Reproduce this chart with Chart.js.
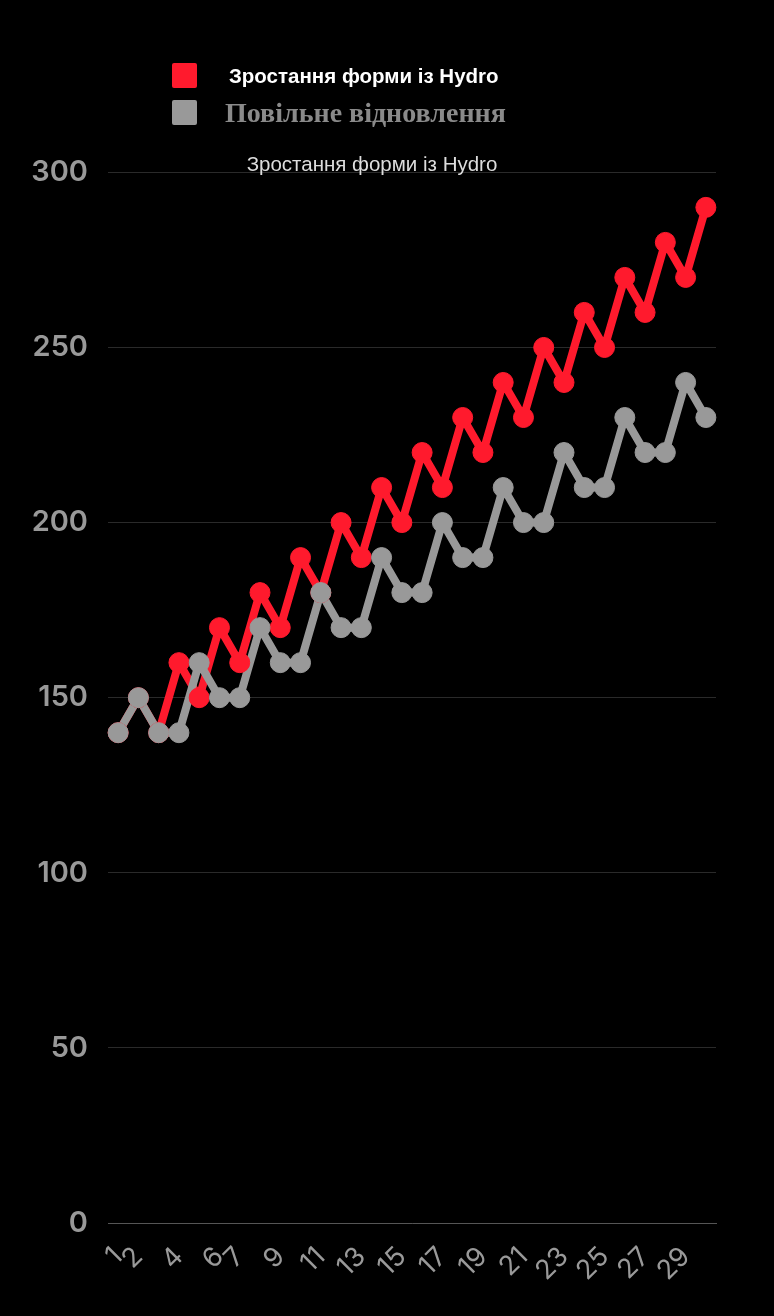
<!DOCTYPE html>
<html>
<head>
<meta charset="utf-8">
<script src="https://cdn.jsdelivr.net/npm/chart.js@4/dist/chart.umd.min.js"></script>
<style>
  html, body { margin: 0; padding: 0; background: #000; }
  #wrap { position: relative; width: 774px; height: 1316px; }
  #wrap canvas { position: absolute; left: 0; top: 0; }
  .legend { position: absolute; left: 172px; top: 63px; }
  .legend .item { display: flex; align-items: center; height: 25px; margin-bottom: 12px; }
  .legend .box { width: 25px; height: 25px; border-radius: 2px; }
  .legend .l1 { margin-left: 32px; color: #fff; font: bold 20.5px "Liberation Sans", Arial, sans-serif; }
  .legend .l2 { margin-left: 28px; color: #8a8a8a; font: bold 28px "Liberation Serif", "Times New Roman", serif; }
</style>
</head>
<body>
<div id="wrap">
  <canvas id="chart" width="774" height="1316"></canvas>
  <div class="legend" id="legend"></div>
</div>
<script>
const days = ['1','2','3','4','5','6','7','8','9','10','11','12','13','14','15',
  '16','17','18','19','20','21','22','23','24','25','26','27','28','29','30'];
const shownDays = ['1','2','4','6','7','9','11','13','15','17','19','21','23','25','27','29'];
const hydro = [140,150,140,160,150,170,160,180,170,190,180,200,190,210,200,
  220,210,230,220,240,230,250,240,260,250,270,260,280,270,290];
const slow = [140,150,140,140,160,150,150,170,160,160,180,170,170,190,180,
  180,200,190,190,210,200,200,220,210,210,230,220,220,240,230];
const seriesNames = ['Зростання форми із Hydro', 'Повільне відновлення'];
const titleText = 'Зростання форми із Hydro';
const yTicks = [0, 50, 100, 150, 200, 250, 300];

const RED = '#ff1a2d';
const GRAY = '#999999';

function buildLegend() {
  const el = document.getElementById('legend');
  const cols = [RED, GRAY];
  el.innerHTML = '';
  seriesNames.forEach((name, i) => {
    const item = document.createElement('div');
    item.className = 'item';
    item.innerHTML = `<div class="box" style="background:${cols[i]}"></div><span class="l${i + 1}">${name}</span>`;
    el.appendChild(item);
  });
}

// lines first, then points, so each series' dots sit over the other line
function lineSet(data, col, order) {
  return { data, borderColor: col, backgroundColor: col, borderWidth: 8,
    pointRadius: 0, tension: 0, order };
}
function dotSet(data, col, order) {
  return { data, borderColor: col, backgroundColor: col, showLine: false,
    pointRadius: 10, pointBorderWidth: 1, order };
}

function setupChart() {
  const ctx = document.getElementById('chart').getContext('2d');
  new Chart(ctx, {
    type: 'line',
    data: {
      labels: days,
      datasets: [
        lineSet(hydro, RED, 4),
        lineSet(slow, GRAY, 3),
        dotSet(hydro, RED, 2),
        dotSet(slow, GRAY, 1)
      ]
    },
    options: {
      responsive: false,
      animation: false,
      layout: { padding: { top: 158, left: 28, right: 58, bottom: 33 } },
      plugins: {
        legend: { display: false },
        tooltip: { enabled: false },
        title: {
          display: true,
          text: titleText,
          color: '#dddddd',
          padding: 0,
          font: { family: '"Liberation Sans", Arial, sans-serif', size: 20.5, weight: 'normal', lineHeight: 0.7 }
        }
      },
      scales: {
        x: {
          offset: true,
          grid: { display: false },
          border: { display: true, color: '#555555', width: 1 },
          afterFit: s => { s.height = 60; },
          ticks: {
            autoSkip: false,
            minRotation: 45,
            maxRotation: 45,
            color: '#999999',
            font: { family: 'Inter, sans-serif', size: 27, lineHeight: 1.9 },
            callback: function (v) {
              const l = this.getLabelForValue(v);
              return shownDays.includes(l) ? l : '';
            }
          }
        },
        y: {
          min: 0,
          max: 300,
          afterFit: s => { s.width = 80; },
          afterBuildTicks: s => { s.ticks = yTicks.map(v => ({ value: v })); },
          grid: { color: '#2a2a2a', drawTicks: false, lineWidth: 1 },
          border: { display: false },
          ticks: {
            padding: 20,
            color: '#999999',
            font: { family: 'Inter, sans-serif', size: 29, weight: '600' }
          }
        }
      }
    }
  });
}

window.onload = () => {
  buildLegend();
  setupChart();
};
</script>
</body>
</html>
